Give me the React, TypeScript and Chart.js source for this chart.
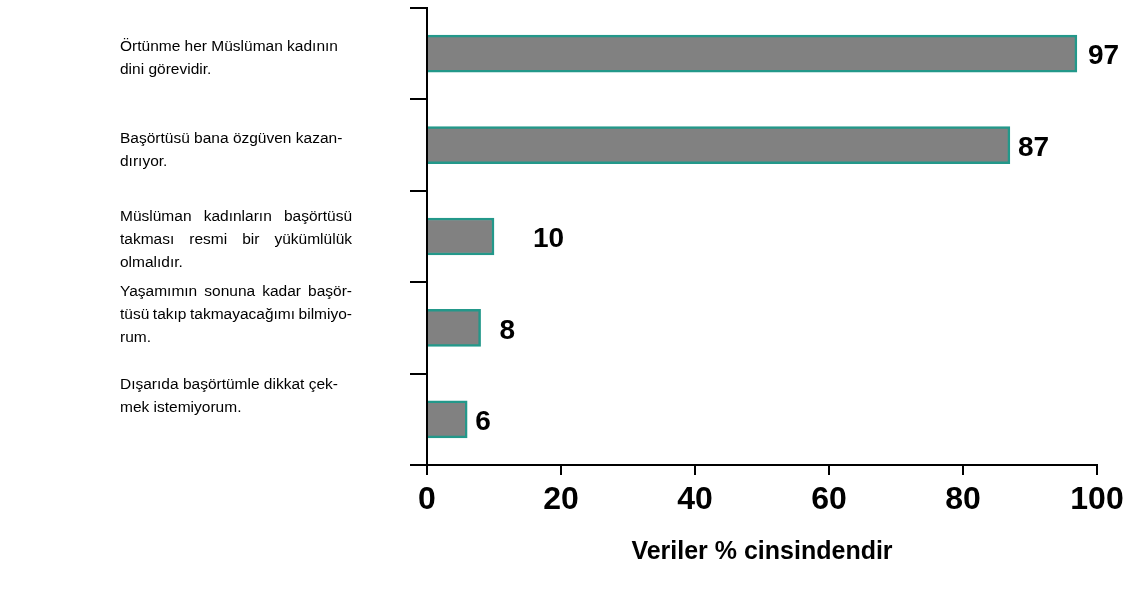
import React, { useEffect, useRef } from "react";
import { Chart, registerables } from "chart.js";

Chart.register(...registerables);

// ---- data ----
const categories: string[][] = [
  ["Örtünme her Müslüman kadının", "dini görevidir."],
  ["Başörtüsü bana özgüven kazan-", "dırıyor."],
  ["Müslüman kadınların başörtüsü", "takması resmi bir yükümlülük", "olmalıdır."],
  ["Yaşamımın sonuna kadar başör-", "tüsü takıp takmayacağımı bilmiyo-", "rum."],
  ["Dışarıda başörtümle dikkat çek-", "mek istemiyorum."],
];
const values: number[] = [97, 87, 10, 8, 6];
const xTickValues: number[] = [0, 20, 40, 60, 80, 100];
const axisTitle = "Veriler % cinsindendir";

const FONT = '"Liberation Sans", Arial, Helvetica, sans-serif';

const leftLabelsPlugin = {
  id: "leftLabels",
  afterDraw(chart: any) {
    const ctx = chart.ctx as CanvasRenderingContext2D;
    const yScale = chart.scales.y;
    const left = 120;
    const colWidth = 232;
    const lineH = 23;
    const offsets = [4.5, 5.5, 3, -13, -23];
    const justify = [false, false, true, true, false];
    ctx.save();
    ctx.fillStyle = "#000";
    ctx.font = `15.5px ${FONT}`;
    ctx.textAlign = "left";
    ctx.textBaseline = "middle";
    categories.forEach((lines, i) => {
      const c = yScale.getPixelForValue(i) + offsets[i];
      const n = lines.length;
      lines.forEach((text, j) => {
        const y = c + (j - (n - 1) / 2) * lineH;
        const isLast = j === n - 1;
        if (justify[i] && !isLast) {
          const words = text.split(" ");
          const ww = words.map((w) => ctx.measureText(w).width);
          const total = ww.reduce((s, w) => s + w, 0);
          const gap = (colWidth - total) / Math.max(1, words.length - 1);
          let x = left;
          words.forEach((w, k) => {
            ctx.fillText(w, x, y);
            x += ww[k] + gap;
          });
        } else {
          ctx.fillText(text, left, y);
        }
      });
    });
    ctx.restore();
  },
};

const valueLabelsPlugin = {
  id: "valueLabels",
  afterDatasetsDraw(chart: any) {
    const ctx = chart.ctx as CanvasRenderingContext2D;
    const meta = chart.getDatasetMeta(0);
    const gaps = [11, 8, 39, 19, 8];
    ctx.save();
    ctx.fillStyle = "#000";
    ctx.font = `bold 28px ${FONT}`;
    ctx.textAlign = "left";
    ctx.textBaseline = "middle";
    meta.data.forEach((el: any, i: number) => {
      ctx.fillText(String(values[i]), el.x + gaps[i], el.y + 3);
    });
    ctx.restore();
  },
};

export default function App() {
  const ref = useRef<HTMLCanvasElement | null>(null);

  useEffect(() => {
    if (!ref.current) return;
    const chart = new Chart(ref.current, {
      type: "bar",
      data: {
        labels: categories,
        datasets: [
          {
            data: values,
            backgroundColor: "#818181",
            borderColor: "#23988a",
            borderWidth: 2.5,
            barThickness: 37,
          },
        ],
      },
      options: {
        indexAxis: "y",
        animation: false,
        responsive: false,
        maintainAspectRatio: false,
        layout: { padding: { top: 8, right: 47, left: 0, bottom: 0 } },
        plugins: {
          legend: { display: false },
          tooltip: { enabled: false },
          title: { display: false },
        },
        scales: {
          x: {
            type: "linear",
            min: xTickValues[0],
            max: xTickValues[xTickValues.length - 1],
            afterBuildTicks: (scale: any) => {
              scale.ticks = xTickValues.map((v) => ({ value: v }));
            },
            ticks: {
              stepSize: 20,
              color: "#000",
              font: { family: FONT, size: 32, weight: "bold" },
              padding: 6,
              maxRotation: 0,
            },
            grid: {
              drawOnChartArea: false,
              drawTicks: true,
              tickLength: 10,
              color: "#000",
              lineWidth: 2,
            },
            border: { display: true, color: "#000", width: 2 },
            title: {
              display: true,
              text: axisTitle,
              color: "#000",
              font: { family: FONT, size: 25, weight: "bold" },
              padding: { top: 0, bottom: 25 },
            },
            afterFit: (scale: any) => {
              scale.height = 127;
            },
          },
          y: {
            type: "category",
            ticks: { display: false },
            grid: {
              offset: true,
              drawOnChartArea: false,
              drawTicks: true,
              tickLength: 17,
              color: "#000",
              lineWidth: 2,
            },
            border: { display: true, color: "#000", width: 2 },
            afterFit: (scale: any) => {
              scale.width = 427;
            },
          },
        },
      } as any,
      plugins: [leftLabelsPlugin, valueLabelsPlugin],
    });
    return () => chart.destroy();
  }, []);

  return (
    <div style={{ position: "absolute", left: 0, top: 0, width: 1144, height: 592, background: "#fff" }}>
      <canvas ref={ref} width={1144} height={592} style={{ display: "block" }} />
    </div>
  );
}
